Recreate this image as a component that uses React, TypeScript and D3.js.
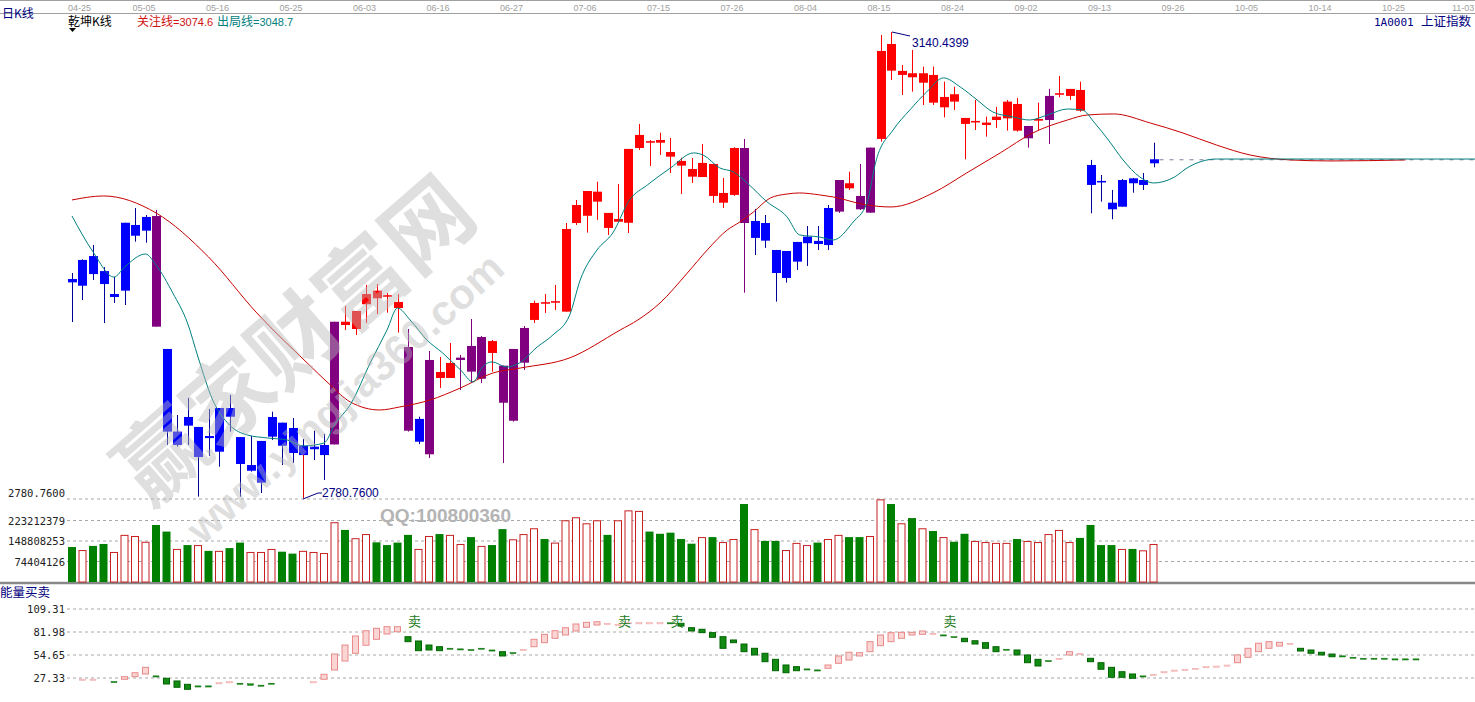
import React from 'react';
import * as d3 from 'd3';

// ---- top date axis ----
const dateLabels = ['04-25', '05-05', '05-16', '05-25', '06-03', '06-16', '06-27', '07-06', '07-15', '07-26',
  '08-04', '08-15', '08-24', '09-02', '09-13', '09-26', '10-05', '10-14', '10-25', '11-03'];
const dateLabelIdx = [0, 7, 14, 21, 28, 35, 42, 49, 56, 63, 70, 77, 84, 91, 98, 105, 112, 119, 126, 133];

// ---- 乾坤K线 candles ----
const open = [2949.8, 2964.5, 2967.5, 2955.9, 2938.2, 2993.2, 2991.5, 2997.7, 2998.4, 2895.8,
  2832.0, 2843.3, 2835.6, 2828.6, 2850.2, 2850.2, 2827.8, 2806.2, 2824.8, 2843.3,
  2838.9, 2834.8, 2821.1, 2820.4, 2821.7, 2916.8, 2914.3, 2911.2, 2930.3, 2934.9,
  2936.1, 2927.4, 2897.3, 2841.8, 2887.3, 2873.4, 2873.4, 2889.1, 2898.1, 2905.0,
  2892.7, 2882.9, 2895.8, 2912.0, 2918.2, 2930.7, 2931.5, 2924.6, 2993.0, 2998.6,
  3009.5, 2989.2, 2994.0, 2993.2, 3050.9, 3055.0, 3055.0, 3044.2, 3037.3, 3028.8,
  3028.5, 3013.9, 3008.7, 3014.7, 3050.9, 2994.6, 2993.0, 2972.2, 2971.4, 2978.4,
  2982.5, 2979.2, 3004.6, 3026.2, 3019.8, 3013.9, 3051.2, 3057.9, 3110.6, 3107.3,
  3105.5, 3101.3, 3085.9, 3082.3, 3086.7, 3069.5, 3070.6, 3068.7, 3072.5, 3073.8,
  3064.3, 3067.9, 3072.0, 3091.1, 3092.0, 3091.1, 3079.7, 3037.8, 3025.5, 3008.7,
  3026.2, 3027.5, 3026.2, 3042.2];
const high = [2954.4, 2965.0, 2976.0, 2959.0, 2951.3, 2993.2, 3004.6, 2999.2, 3003.1, 2895.8,
  2844.8, 2858.0, 2835.6, 2849.5, 2850.2, 2860.3, 2827.8, 2828.6, 2824.8, 2847.4,
  2838.9, 2842.5, 2826.3, 2832.7, 2830.2, 2916.8, 2929.0, 2925.1, 2945.2, 2945.9,
  2939.0, 2938.2, 2911.2, 2843.5, 2894.2, 2889.6, 2900.4, 2891.2, 2918.9, 2905.8,
  2902.7, 2882.9, 2895.8, 2913.5, 2933.1, 2938.2, 2945.2, 2993.0, 3010.8, 3017.7,
  3024.9, 3000.8, 3023.1, 3050.2, 3069.5, 3057.1, 3062.7, 3058.6, 3043.4, 3043.2,
  3054.0, 3038.6, 3027.8, 3051.5, 3057.9, 3003.9, 2999.2, 2972.2, 2971.4, 2978.4,
  2990.7, 2990.7, 3006.9, 3026.2, 3032.6, 3038.6, 3051.2, 3138.1, 3140.44, 3115.0,
  3126.6, 3113.7, 3113.7, 3102.1, 3098.2, 3074.1, 3088.0, 3075.1, 3082.6, 3088.0,
  3089.5, 3067.9, 3085.9, 3096.5, 3106.5, 3096.5, 3102.1, 3041.7, 3030.1, 3018.5,
  3027.0, 3027.8, 3031.6, 3055.0];
const low = [2916.6, 2933.6, 2949.0, 2915.8, 2931.3, 2929.7, 2978.6, 2977.8, 2913.0, 2821.7,
  2820.4, 2821.7, 2781.8, 2813.2, 2804.9, 2832.0, 2781.8, 2801.1, 2784.6, 2825.5,
  2806.2, 2807.8, 2780.76, 2810.1, 2794.7, 2822.1, 2910.4, 2906.6, 2915.8, 2922.8,
  2923.8, 2908.4, 2832.0, 2822.4, 2811.6, 2865.7, 2873.4, 2864.1, 2869.5, 2869.5,
  2878.3, 2807.8, 2839.7, 2879.6, 2915.8, 2923.6, 2925.9, 2924.6, 2991.5, 2985.6,
  2995.4, 2983.8, 2994.0, 2985.3, 3049.4, 3037.0, 3045.5, 3031.6, 3015.4, 3023.9,
  3028.5, 3008.5, 3004.6, 3014.0, 2939.2, 2968.3, 2973.8, 2932.3, 2947.0, 2956.8,
  2959.9, 2972.2, 2972.2, 3000.8, 3018.5, 3003.1, 3000.8, 3055.8, 3103.4, 3091.8,
  3094.4, 3084.1, 3084.1, 3074.6, 3080.3, 3042.2, 3064.8, 3059.7, 3066.4, 3064.3,
  3063.5, 3051.2, 3064.8, 3054.0, 3090.1, 3088.0, 3078.9, 3000.5, 3009.5, 2995.9,
  3005.6, 3016.4, 3018.5, 3036.0];
const close = [2947.2, 2944.6, 2953.6, 2945.9, 2935.9, 2940.8, 2983.2, 2987.1, 2913.0, 2832.0,
  2821.7, 2836.6, 2812.4, 2827.0, 2816.5, 2843.5, 2807.0, 2801.8, 2792.6, 2828.1,
  2821.1, 2815.5, 2813.9, 2818.4, 2813.9, 2822.1, 2916.8, 2925.1, 2938.2, 2940.8,
  2937.3, 2932.1, 2832.7, 2824.2, 2814.5, 2878.0, 2885.0, 2887.3, 2878.3, 2872.8,
  2901.9, 2854.3, 2840.4, 2885.2, 2931.3, 2931.9, 2932.7, 2988.4, 3006.9, 3017.7,
  3017.2, 3000.8, 2996.1, 3050.2, 3061.0, 3056.2, 3057.1, 3047.8, 3040.9, 3034.7,
  3039.4, 3038.6, 3016.2, 3050.9, 2993.0, 2981.5, 2979.4, 2954.4, 2950.6, 2963.2,
  2977.4, 2976.8, 2976.0, 3001.8, 3023.7, 3003.6, 3001.0, 3125.8, 3131.2, 3110.4,
  3108.6, 3108.6, 3107.3, 3090.3, 3092.4, 3074.1, 3071.8, 3070.5, 3075.1, 3086.7,
  3084.9, 3058.4, 3073.3, 3072.5, 3093.2, 3096.5, 3095.7, 3022.4, 3024.3, 3003.6,
  3005.6, 3023.7, 3022.4, 3039.1];
// b = blue, r = red, p = purple
const candleKind = ('bbbbbbbb' + 'p' + 'bbbbbbbbbbbbbbbb' + 'p' + 'rrrrrr' + 'p' + 'b' + 'p' + 'rr' + 'ppp' + 'r' +
  'ppp' + 'rrrrrrrrrrrrrrrrrrrr' + 'p' + 'bbbbbbbb' + 'p' + 'r' + 'pp' + 'rrrrrrrrrrrrrr' + 'p' + 'r' + 'p' +
  'rrr' + 'bbbbbbb').split('');

// 关注线 (long line) and 出局线 (short line), read at candle index positions
const focusIdx = [0, 3, 8, 13, 17.6, 22.4, 24.6, 26.5, 29.3, 31.2, 34.1, 37, 40.1, 42.7, 47.4, 52.2, 53.9, 56, 58.6, 60.5,
  62.4, 63.6, 64.9, 66.5, 68.1, 69.3, 71.2, 72.5, 75.7, 78, 82, 85.2, 88.4, 91.5, 94.8, 96.7, 99.2, 102.7, 105.8, 109,
  112.2, 116, 120, 127];
const focusVal = [3010.8, 3013.9, 3000.8, 2966.8, 2923.6, 2885.0, 2868.0, 2854.9, 2848.7, 2851.0,
  2856.4, 2865.7, 2877.3, 2881.1, 2888.9, 2910.4, 2918.2, 2931.3, 2954.4, 2972.2,
  2987.6, 2993.8, 3001.5, 3012.3, 3015.4, 3016.2, 3014.7, 3013.1, 3006.9, 3005.4,
  3016.2, 3031.6, 3047.1, 3062.5, 3072.5, 3076.4, 3077.2, 3070.2, 3062.5, 3053.2,
  3045.5, 3041.7, 3040.9, 3041.7];
const exitIdx = [0, 2, 4, 5, 7, 8, 9.6, 11, 12, 13.4, 15, 16.7, 18.6, 20.5, 22, 24, 25, 26.6, 28.4, 30,
  31, 32.2, 33.8, 35.3, 37, 38.2, 39.1, 40, 41.4, 42.6, 44.3, 45.8, 47.4, 48.4, 50, 51.5, 53.1, 54.8, 57, 59.2,
  60.1, 61.7, 63, 64.3, 66.2, 68.1, 69.3, 71.2, 72.5, 74.4, 75.7, 76.6, 78.2, 79.8, 81.4, 83, 84.6, 86.2, 87.7, 89.6,
  91.2, 92.9, 94.8, 96.2, 97.4, 98.7, 100.1, 101.7, 103, 105, 106.2, 109, 134];
const exitVal = [2998.4, 2970.7, 2951.3, 2959.0, 2969.1, 2960.6, 2939.0, 2915.8, 2889.6, 2856.4,
  2837.1, 2829.4, 2827.1, 2825.5, 2820.9, 2823.2, 2837.1, 2854.1, 2885.0, 2910.4,
  2927.4, 2918.2, 2902.7, 2892.7, 2879.6, 2870.3, 2881.9, 2885.8, 2881.9, 2885.0,
  2897.3, 2906.6, 2922.0, 2949.0, 2972.2, 2985.3, 3010.8, 3022.4, 3035.5, 3047.1,
  3045.5, 3035.5, 3032.4, 3023.9, 3009.3, 2997.7, 2983.8, 2982.2, 2979.9, 2993.8,
  3008.5, 3041.7, 3064.8, 3080.3, 3094.2, 3105.0, 3098.0, 3088.0, 3078.7, 3074.9,
  3072.5, 3076.4, 3081.0, 3080.3, 3070.2, 3057.1, 3041.7, 3028.5, 3023.9, 3028.5,
  3035.5, 3042.4, 3042.4];

// ---- volume (millions) ----
const volume = [127, 116, 131, 138, 109, 171, 167, 146, 207, 183,
  120, 134, 134, 113, 113, 123, 143, 109, 109, 120,
  110, 103, 113, 109, 105, 217, 189, 159, 174, 144,
  134, 143, 171, 120, 167, 174, 171, 138, 163, 131,
  134, 192, 155, 174, 195, 156, 143, 224, 235, 213,
  224, 171, 224, 260, 258, 183, 175, 179, 156, 139,
  163, 163, 145, 156, 283, 192, 149, 149, 116, 142,
  134, 143, 156, 171, 163, 163, 167, 300, 283, 213,
  232, 195, 185, 163, 146, 175, 149, 145, 142, 142,
  156, 149, 145, 174, 189, 145, 160, 207, 134, 134,
  120, 120, 115, 138];
const volumeKind = ('grggrrrrgg' + 'rgrgrggrrr' + 'ggrrrrgrrg' + 'gggrrgrrgr' + 'ggrrrgrrrr' +
  'rgrrrggggg' + 'rgrrgrggrr' + 'rgrrggrrgr' + 'grgrggrrrr' + 'grrrrrgggg' + 'rgrr').split('');
const volumeTicks = [74404126, 148808253, 223212379];

// ---- 能量买卖 ----
const energyOpen: (number | null)[] = [null, 25.8, 25.8, null, 23.2, 25.8, 28.9, 32.1, 29.9, 27.0,
  23.8, 19.8, 18.0, 18.0, 21.5, 22.7, 21.2, 20.5, 18.9, 21.2,
  null, null, null, 22.7, 25.8, 36.8, 47.5, 56.7, 66.2, 73.3,
  79.6, 82.3, 76.4, 71.3, 66.5, 64.5, 62.8, 62.0, 61.2, 62.8,
  60.7, 58.6, 57.6, 61.2, 64.5, 69.3, 74.5, 78.4, 83.2, 87.6,
  90.3, 92.1, 90.9, 92.8, 92.8, 92.8, 92.8, 93.0, 92.3, 87.1,
  85.2, 81.2, 76.4, 72.5, 67.7, 62.6, 56.7, 49.5, 42.8, 40.8,
  38.2, 37.0, 38.9, 44.8, 48.7, 53.5, 58.6, 65.7, 70.5, 74.5,
  78.4, 79.2, 80.2, 78.6, 76.6, 74.5, 71.6, 69.3, 64.5, 61.6,
  60.6, 54.7, 49.5, 48.1, 50.5, 54.7, 56.5, 50.7, 45.5, 40.0,
  34.8, 32.1, 29.9, 31.5, 34.6, 36.6, 37.5, 38.7, 40.6, 41.4,
  42.6, 45.5, 51.9, 58.6, 62.6, 65.3, 68.4, 62.6, 60.6, 57.9,
  55.8, 53.7, 52.1, 50.9, 50.9, 50.9, 50.1, 50.1, 50.1];
const energyClose: (number | null)[] = [null, 26.0, 26.0, null, 22.9, 28.9, 33.6, 40.0, 29.7, 20.2,
  16.3, 13.9, 17.8, 17.8, 21.7, 22.9, 21.0, 18.5, 18.7, 21.0,
  null, null, null, 22.9, 31.7, 55.8, 66.5, 77.2, 83.5, 86.4,
  88.3, 88.3, 70.5, 59.8, 60.6, 59.8, 62.6, 61.8, 61.0, 62.6,
  60.5, 53.5, 57.4, 61.4, 73.3, 79.2, 83.5, 87.1, 91.5, 93.5,
  94.2, 92.3, 91.1, 93.0, 93.0, 93.0, 93.0, 92.8, 89.1, 83.2,
  81.2, 75.7, 62.6, 69.3, 58.6, 54.7, 46.7, 36.0, 33.6, 36.0,
  38.0, 36.8, 42.8, 53.5, 57.9, 57.4, 70.5, 78.4, 81.2, 81.6,
  81.6, 83.2, 80.4, 78.4, 76.4, 70.5, 67.7, 62.6, 58.6, 61.4,
  54.7, 45.5, 41.6, 47.9, 50.7, 58.6, 56.7, 46.7, 37.7, 28.2,
  28.2, 27.0, 29.7, 31.7, 34.8, 36.8, 37.7, 38.9, 40.8, 41.6,
  42.8, 54.7, 62.6, 68.6, 70.5, 69.7, 68.6, 59.4, 56.7, 54.7,
  52.6, 53.5, 51.9, 50.7, 50.7, 50.7, 49.9, 49.9, 49.9];
const energyTicks = [27.33, 54.65, 81.98, 109.31];
const sellIdx = [32, 52, 57, 83];

const W = 1475;
const H = 702;
const CJK = '"Noto Sans CJK SC", sans-serif';
const MONO = '"DejaVu Sans Mono", monospace';
const SANS = '"Liberation Sans", Arial, sans-serif';

export default function App() {
  const x = d3.scaleLinear().domain([0, 133]).range([72, 72 + 10.5 * 133]);
  const yP = d3.scaleLinear().domain([2780.76, 3140.44]).range([498, 32]);
  const yV = d3.scaleLinear().domain([0, 223212379]).range([582, 520.5]);
  const yE = d3.scaleLinear().domain([0, 109.31]).range([701, 609]);

  const line = d3.line<[number, number]>()
    .x((d) => x(d[0]))
    .y((d) => yP(d[1]))
    .curve(d3.curveMonotoneX);
  const focusPath = line(focusIdx.map((d, i) => [d, focusVal[i]] as [number, number])) || '';
  const exitPath = line(exitIdx.map((d, i) => [d, exitVal[i]] as [number, number])) || '';

  const bodyColor: Record<string, string> = { b: '#0000ff', r: '#ff0000', p: '#800080' };
  const wickColor: Record<string, string> = { b: '#00009a', r: '#ff0000', p: '#800080' };

  const lowIdx = low.indexOf(d3.min(low) as number);
  const highIdx = high.indexOf(d3.max(high) as number);
  const last = close.length - 1;
  const lastTop = Math.max(open[last], close[last]);
  const gridX0 = 67;

  return (
    <svg width={W} height={H} style={{ position: 'absolute', left: 0, top: 0, background: '#fff' }}
      fontFamily={SANS}>
      <rect x={0} y={0} width={W} height={H} fill="#fff" />

      {/* frame lines */}
      <line x1={0} x2={W} y1={0.5} y2={0.5} stroke="#a0a0a0" />
      <line x1={0} x2={W} y1={13.5} y2={13.5} stroke="#a0a0a0" />
      <line x1={0} x2={W} y1={583} y2={583} stroke="#888" strokeWidth={2.5} />

      {/* date labels */}
      {dateLabels.map((t, k) => (
        <text key={t} x={Math.min(Math.max(x(dateLabelIdx[k]) - 13, 68), W - 23)} y={11} fontSize={9} fill="#a0a0a0">{t}</text>
      ))}

      {/* titles */}
      <text x={2} y={18} fontSize={12} fill="#000080" fontFamily={CJK}>日K线</text>
      <text x={68} y={26} fontSize={12} fill="#000" fontFamily={CJK}>乾坤K线</text>
      <path d="M69,28 L76,28 L72.5,32 Z" fill="#000" />
      <text x={137} y={26} fontSize={12} fill="#d01010" fontFamily={CJK}>
        关注线<tspan fontFamily={SANS} fontSize={11}>=3074.6</tspan>
      </text>
      <text x={217} y={26} fontSize={12} fill="#008080" fontFamily={CJK}>
        出局线<tspan fontFamily={SANS} fontSize={11}>=3048.7</tspan>
      </text>
      <text x={1374} y={26} fontSize={11} fill="#000080" fontFamily={MONO}>1A0001</text>
      <text x={1421} y={26} fontSize={12.5} fill="#000080" fontFamily={CJK}>上证指数</text>

      {/* grid lines */}
      <line x1={gridX0} x2={W} y1={yP(2780.76) + 1} y2={yP(2780.76) + 1} stroke="#a8a8a8" strokeDasharray="3,3" />
      <text x={65} y={yP(2780.76) - 1} fontSize={10.5} textAnchor="end" fill="#222" fontFamily={MONO}>2780.7600</text>
      {volumeTicks.map((t) => (
        <g key={t}>
          <line x1={gridX0} x2={W} y1={yV(t)} y2={yV(t)} stroke="#a8a8a8" strokeDasharray="3,3" />
          <text x={65} y={yV(t) + 4} fontSize={10.5} textAnchor="end" fill="#222" fontFamily={MONO}>{t}</text>
        </g>
      ))}
      {energyTicks.map((t) => (
        <g key={t}>
          <line x1={gridX0} x2={W} y1={yE(t)} y2={yE(t)} stroke="#a8a8a8" strokeDasharray="3,3" />
          <text x={65} y={yE(t) + 4} fontSize={10.5} textAnchor="end" fill="#222" fontFamily={MONO}>{t.toFixed(2)}</text>
        </g>
      ))}
      <text x={0} y={597} fontSize={12.5} fill="#000080" fontFamily={CJK}>能量买卖</text>

      {/* volume bars */}
      {volume.map((v, i) => {
        const up = volumeKind[i] === 'r';
        const top = yV(v * 1e6);
        return up ? (
          <rect key={i} x={x(i) - 3.5} y={top + 0.5} width={7} height={582 - top - 0.5}
            fill="#fff" stroke="#c82020" strokeWidth={1} />
        ) : (
          <rect key={i} x={x(i) - 4} y={top} width={8} height={582 - top} fill="#008000" />
        );
      })}

      {/* candles */}
      {open.map((o, i) => {
        const k = candleKind[i];
        const top = yP(Math.max(o, close[i]));
        const bot = yP(Math.min(o, close[i]));
        const cx = Math.round(x(i)) + 0.5;
        return (
          <g key={i}>
            <line x1={cx} x2={cx} y1={yP(high[i])} y2={yP(low[i])} stroke={wickColor[k]} />
            {i === lowIdx && (
              <line x1={cx} x2={cx} y1={bot} y2={yP(low[i])} stroke="#e00000" />
            )}
            <rect x={cx - 4.5} y={top} width={9} height={Math.max(1, bot - top)} fill={bodyColor[k]} />
          </g>
        );
      })}

      {/* last price projection */}
      <line x1={x(last) + 6} x2={W} y1={yP(lastTop) + 0.5} y2={yP(lastTop) + 0.5}
        stroke="#7a7a9a" strokeDasharray="4,6" />

      {/* moving lines */}
      <path d={focusPath} fill="none" stroke="#c80000" strokeWidth={1} />
      <path d={exitPath} fill="none" stroke="#008080" strokeWidth={1} />

      {/* high / low markers */}
      <polyline points={`${x(highIdx) + 1},${yP(high[highIdx])} ${x(highIdx) + 19},${yP(high[highIdx]) + 4}`}
        fill="none" stroke="#000080" />
      <text x={x(highIdx) + 21} y={yP(high[highIdx]) + 15} fontSize={12} fill="#000080">3140.4399</text>
      <polyline points={`${x(lowIdx)},${yP(low[lowIdx]) + 1} ${x(lowIdx) + 15},${yP(low[lowIdx]) - 5} ${x(lowIdx) + 19},${yP(low[lowIdx]) - 5}`}
        fill="none" stroke="#000080" />
      <text x={x(lowIdx) + 19} y={yP(low[lowIdx]) - 1} fontSize={12} fill="#000080">2780.7600</text>

      {/* energy candles */}
      {energyOpen.map((o, i) => {
        const c = energyClose[i];
        if (o === null || c === null) return null;
        const up = c > o;
        const top = yE(Math.max(o, c));
        const h = Math.max(1.2, yE(Math.min(o, c)) - top);
        return (
          <rect key={i} x={x(i) - 3} y={top} width={6} height={h}
            fill={up ? '#fbd4d4' : '#138a13'} stroke={up ? '#e88a8a' : '#006400'} strokeWidth={h > 2 ? 1 : 0.4} />
        );
      })}
      {sellIdx.map((i) => (
        <text key={i} x={x(i)} y={yE(89)} fontSize={13} fill="#1a7a1a" fontFamily={CJK}>卖</text>
      ))}

      {/* watermark */}
      <g transform="translate(290,335) rotate(-41)">
        <text textAnchor="middle" dominantBaseline="central" fontSize={88} fontWeight="bold"
          fill="#b8b8b8" fillOpacity={0.45} fontFamily={CJK}>赢家财富网</text>
      </g>
      <g transform="translate(345,398) rotate(-42)">
        <text textAnchor="middle" dominantBaseline="central" fontSize={42} fontWeight="bold"
          fill="#b8b8b8" fillOpacity={0.45}>www.yingjia360.com</text>
      </g>
      <text x={380} y={522} fontSize={19} fontWeight="bold" fill="#b4b4b4">QQ:100800360</text>
    </svg>
  );
}
